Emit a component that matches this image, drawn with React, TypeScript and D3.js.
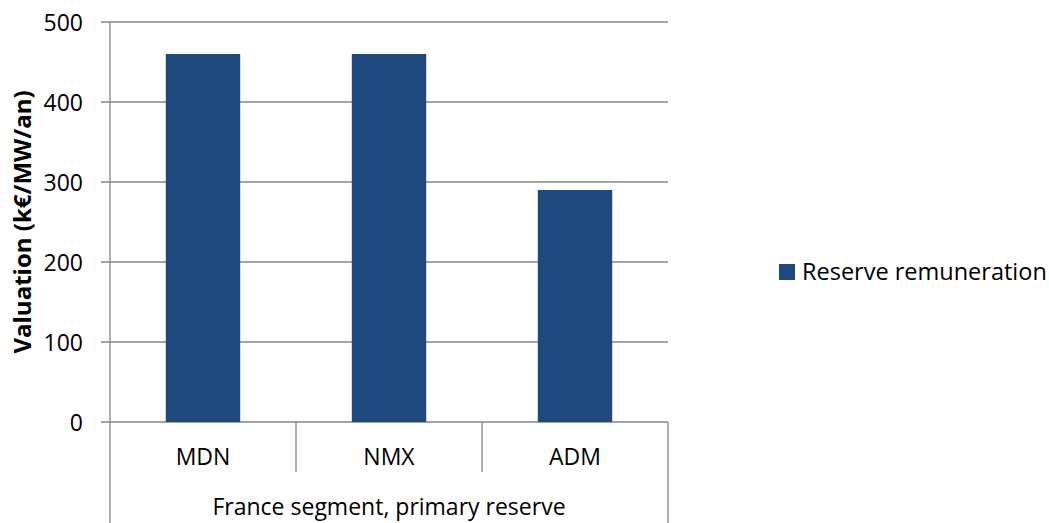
import React from "react";
import * as d3 from "d3";

// Chart data
const categories = ["MDN", "NMX", "ADM"];
const reserveRemuneration = [460, 460, 290];
const yTicks = [0, 100, 200, 300, 400, 500];
const groupLabel = "France segment, primary reserve";
const seriesName = "Reserve remuneration";
const yTitle = "Valuation (k€/MW/an)";

const W = 1049;
const H = 523;
const plot = { left: 110, right: 668, top: 22, bottom: 422 };
const BAR_COLOR = "#1F497D";
const GRID = "#868686";
const FONT = "'Open Sans', 'Noto Sans', sans-serif";

export default function App() {
  const x = d3
    .scaleBand<string>()
    .domain(categories)
    .range([plot.left, plot.right])
    .padding(0);
  const y = d3.scaleLinear().domain([0, 500]).range([plot.bottom, plot.top]);
  // Excel-style gap width of 150%
  const barW = x.bandwidth() / 2.5;

  const bounds = [plot.left, ...categories.map((c) => (x(c) as number) + x.bandwidth())];

  return (
    <svg
      width={W}
      height={H}
      style={{ position: "absolute", left: 0, top: 0, background: "#fff" }}
      fontFamily={FONT}
    >
      {/* gridlines with outer ticks */}
      {yTicks.map((t) => (
        <g key={t}>
          <line
            x1={plot.left - 9}
            x2={plot.right}
            y1={y(t)}
            y2={y(t)}
            stroke={GRID}
            strokeWidth={1.3}
          />
          <text
            x={83}
            y={y(t)}
            textAnchor="end"
            dominantBaseline="central"
            fontSize={23}
            fill="#000"
          >
            {t}
          </text>
        </g>
      ))}

      {/* bars */}
      {categories.map((c, i) => (
        <rect
          key={c}
          x={(x(c) as number) + (x.bandwidth() - barW) / 2}
          y={y(reserveRemuneration[i])}
          width={barW}
          height={y(0) - y(reserveRemuneration[i])}
          fill={BAR_COLOR}
        />
      ))}

      {/* value axis line, running down through the category label area */}
      <line x1={plot.left} x2={plot.left} y1={plot.top} y2={H} stroke={GRID} strokeWidth={1.3} />
      {/* category dividers */}
      {bounds.slice(1).map((bx, i) => (
        <line
          key={i}
          x1={bx}
          x2={bx}
          y1={plot.bottom}
          y2={i === bounds.length - 2 ? H : 472}
          stroke={GRID}
          strokeWidth={1.3}
        />
      ))}

      {/* category labels */}
      {categories.map((c) => (
        <text
          key={c}
          x={(x(c) as number) + x.bandwidth() / 2}
          y={465}
          textAnchor="middle"
          fontSize={23}
          fill="#000"
        >
          {c}
        </text>
      ))}
      <text
        x={(plot.left + plot.right) / 2}
        y={515}
        textAnchor="middle"
        fontSize={23}
        fill="#000"
      >
        {groupLabel}
      </text>

      {/* axis title */}
      <text
        transform={`translate(31, ${(plot.top + plot.bottom) / 2}) rotate(-90)`}
        textAnchor="middle"
        fontSize={24}
        fontWeight="bold"
        fill="#000"
      >
        {yTitle}
      </text>

      {/* legend */}
      <rect x={779} y={264} width={16} height={16} fill={BAR_COLOR} />
      <text x={802} y={280} fontSize={23.5} fill="#000">
        {seriesName}
      </text>
    </svg>
  );
}
